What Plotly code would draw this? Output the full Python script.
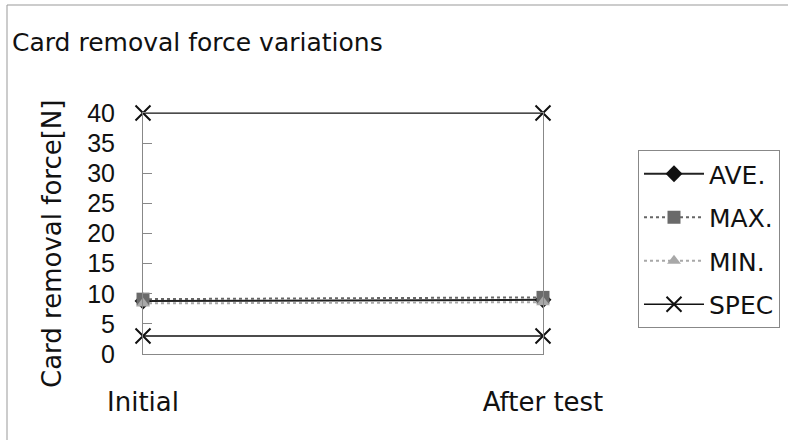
import plotly.graph_objects as go

categories = ["Initial", "After test"]
ave = [8.8, 9.0]
max_v = [9.1, 9.4]
min_v = [8.4, 8.6]
spec_upper = [40, 40]
spec_lower = [3, 3]
y_ticks = [0, 5, 10, 15, 20, 25, 30, 35, 40]

FONT = "DejaVu Sans, sans-serif"
NUM_FONT = "Liberation Sans, Arial, sans-serif"

fig = go.Figure()
fig.add_trace(go.Scatter(x=categories, y=ave, name="AVE.", mode="lines+markers",
                         legendgroup="ave",
                         line=dict(color="#222222", width=2),
                         marker=dict(symbol="diamond", size=13, color="#111111"),
                         cliponaxis=False))
fig.add_trace(go.Scatter(x=categories, y=max_v, name="MAX.", mode="lines+markers",
                         legendgroup="max",
                         line=dict(color="#666666", width=2, dash="dot"),
                         marker=dict(symbol="square", size=13, color="#6a6a6a"),
                         cliponaxis=False))
fig.add_trace(go.Scatter(x=categories, y=min_v, name="MIN.", mode="lines+markers",
                         legendgroup="min",
                         line=dict(color="#a8a8a8", width=2, dash="dot"),
                         marker=dict(symbol="triangle-up", size=12, color="#a8a8a8"),
                         cliponaxis=False))
fig.add_trace(go.Scatter(x=categories, y=spec_upper, name="SPEC", mode="lines+markers",
                         legendgroup="spec",
                         line=dict(color="#111111", width=1.5),
                         marker=dict(symbol="x-thin", size=15,
                                     line=dict(color="#111111", width=2)),
                         cliponaxis=False))
fig.add_trace(go.Scatter(x=categories, y=spec_lower, name="SPEC", mode="lines+markers",
                         legendgroup="spec", showlegend=False,
                         line=dict(color="#111111", width=1.5),
                         marker=dict(symbol="x-thin", size=15,
                                     line=dict(color="#111111", width=2)),
                         cliponaxis=False))

fig.update_layout(
    width=788, height=440,
    margin=dict(l=143, r=245, t=113, b=86, autoexpand=False),
    paper_bgcolor="white", plot_bgcolor="white",
    font=dict(family=FONT, size=25, color="#111111"),
    title=dict(text="Card removal force variations", x=12/788, xanchor="left",
               y=1-42/440, yanchor="middle", yref="container",
               font=dict(family=FONT, size=25, color="#111111")),
    showlegend=True,
    legend=dict(x=(638-143)/400, xanchor="left", y=(354-150)/241, yanchor="top",
                bordercolor="#888888", borderwidth=1, bgcolor="white",
                font=dict(family=FONT, size=25, color="#111111"),
                traceorder="grouped", tracegroupgap=8, itemwidth=60),
    shapes=[dict(type="rect", xref="paper", yref="paper",
                 x0=(7-143)/400, x1=3.0, y0=-2.0, y1=(354-5)/241,
                 line=dict(color="#999999", width=1), layer="below")],
    annotations=[dict(text="Card removal force[N]", textangle=-90,
                      xref="paper", yref="paper",
                      x=(52-143)/400, y=(354-244)/241,
                      xanchor="center", yanchor="middle", showarrow=False,
                      font=dict(family=FONT, size=26, color="#111111"))],
)
fig.update_xaxes(type="category", range=[0, 1], showgrid=False, zeroline=False,
                 showline=True, mirror=True, linecolor="#888888", linewidth=1,
                 ticks="", ticklabelstandoff=25,
                 tickfont=dict(family=FONT, size=26, color="#111111"))
fig.update_yaxes(range=[0, 40], tickvals=y_ticks, showgrid=False, zeroline=False,
                 showline=True, mirror=True, linecolor="#888888", linewidth=1,
                 ticks="inside", ticklen=9, tickcolor="#888888",
                 ticklabelstandoff=22,
                 tickfont=dict(family=NUM_FONT, size=25, color="#111111"))

fig.write_html("out.html", config={"displayModeBar": False},
               post_script="document.body.style.margin='0px';")
